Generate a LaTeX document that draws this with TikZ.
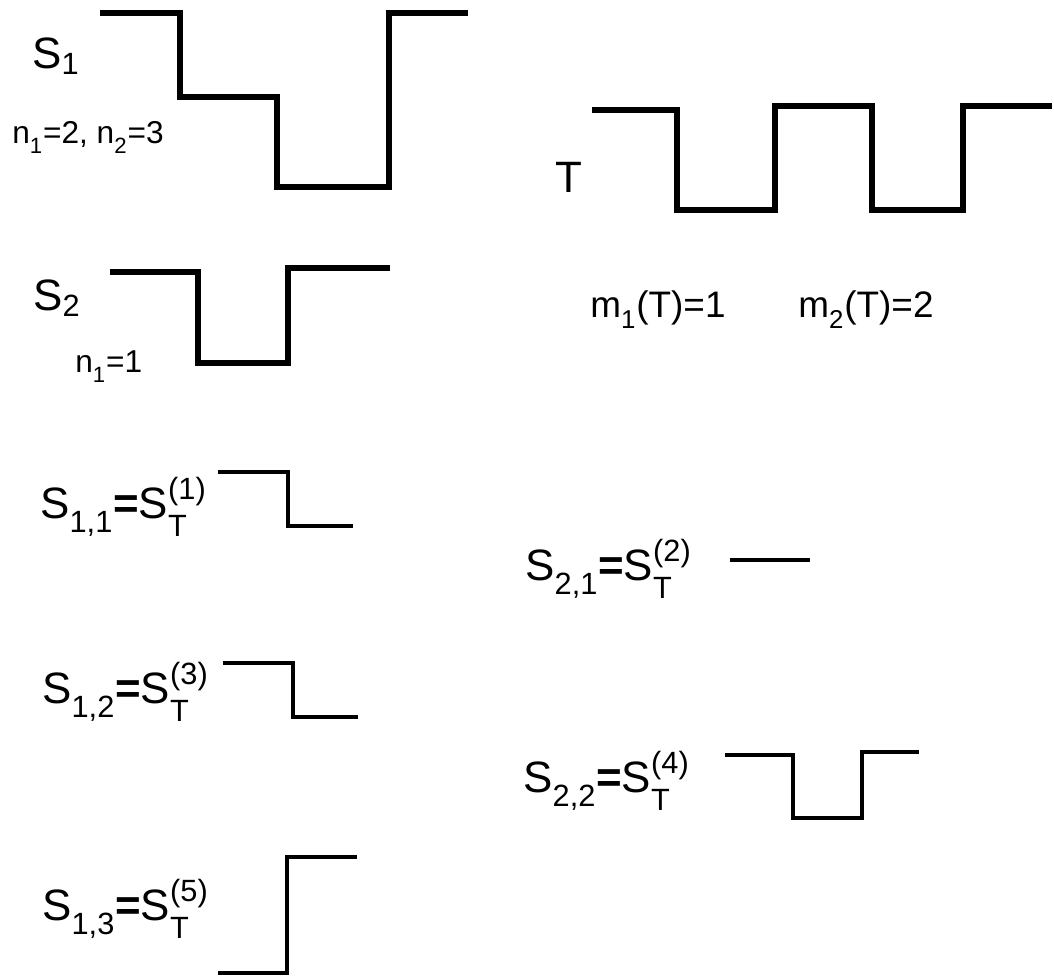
\documentclass[tikz,border=0pt]{standalone}
\usepackage{amsmath}
\usepackage{fontspec}
\setmainfont{Liberation Sans}
\tikzset{every node/.style={inner sep=0pt,anchor=base west},wave/.style={line width=3.4pt},piece/.style={line width=2pt},
big/.style={font=\fontsize{25}{30}\selectfont},mid/.style={font=\fontsize{21}{25}\selectfont},small/.style={font=\fontsize{18}{22}\selectfont}}
\newcommand{\lo}[1]{\text{\raisebox{-.25em}{#1}}}
\newcommand{\splitname}[2]{$\text{S}_{\lo{#1}}\textbf{=}\text{S}^{\text{(#2)}}_{\lo{T}}$}

\begin{document}
\begin{tikzpicture}[x=0.02cm,y=-0.02cm]
\useasboundingbox (0,0) rectangle (1054,978);
% the signals S1, S2 and T
\node[big] (sone) at (32,68) {S$_{\text{1}}$};\node[small] (none) at (12,143) {n$_{\lo{1}}$=2, n$_{\lo{2}}$=3};
\draw[wave] (100,13)-|(180,97)-|(277,187)-|(389,13)--(468,13);
\node[big] (stwo) at (33,310) {S$_{\text{2}}$};\node[small] (ntwo) at (75,372) {n$_{\lo{1}}$=1};
\draw[wave] (110,272)-|(198,363)-|(288,268)--(390,268);
\node[big] (t) at (555,192) {T};
\draw[wave] (592,110)-|(677,210)-|(775,106)-|(872,210)-|(963,106)--(1052,106);
\node[mid] (mone) at (590,317) {m$_{\lo{1}}$(T)=1};\node[mid] (mtwo) at (798,317) {m$_{\lo{2}}$(T)=2};
% the pieces
\foreach \x/\y/\i/\k in {40/518/{1,1}/1,42/703/{1,2}/3,42/920/{1,3}/5,525/580/{2,1}/2,523/792/{2,2}/4}{\node[big] (s\k) at (\x,\y) {\splitname{\i}{\k}};}
\draw[piece] (218,472)-|(288,526)--(353,526);
\draw[piece] (223,663)-|(293,717)--(358,717);
\draw[piece] (218,973)-|(287,857)--(357,857);
\draw[piece] (730,560)--(810,560);
\draw[piece] (725,755)-|(793,818)-|(862,752)--(919,752);
\end{tikzpicture}
\end{document}
